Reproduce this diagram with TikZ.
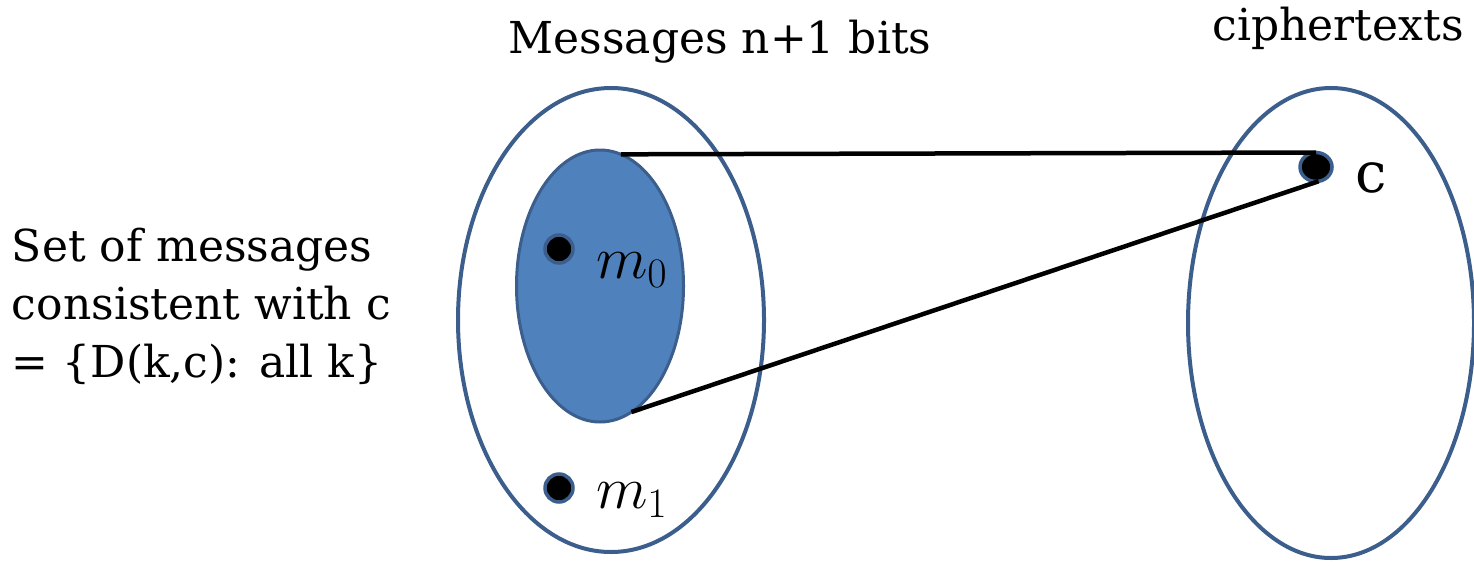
\documentclass[tikz,border=0pt]{standalone}
\usepackage{fix-cm}
\usepackage{fontspec}
\setmainfont{DejaVu Serif}
\usetikzlibrary{shapes.geometric}

\definecolor{setblue}{HTML}{4F81BD}
\definecolor{edgeblue}{HTML}{3B5E8C}

\begin{document}
\begin{tikzpicture}[x=1pt,y=-1pt,line width=4pt]
  \tikzset{every node/.style={inner sep=0pt,outer sep=0pt}}
  \tikzset{region/.style={ellipse,draw=edgeblue}}
  \tikzset{elem/.style={circle,draw=edgeblue,fill=black,line width=3.5pt,minimum size=28pt}}
  \tikzset{caption/.style={font=\fontsize{44}{58}\selectfont}}
  \tikzset{elemlabel/.style={anchor=west,font=\fontsize{60}{60}\selectfont}}
  \useasboundingbox (0,0) rectangle (1474,565);

  % message space and ciphertext space
  \node[region,minimum width=306pt,minimum height=464pt] (msgs) at (611,320) {};
  \node[region,minimum width=286pt,minimum height=470pt] (ctxts) at (1331,323) {};
  \node[region,fill=setblue,line width=3pt,minimum width=167pt,minimum height=272pt] (cons) at (600,286) {};

  % points
  \node[elem] (m0) at (559,249) {};
  \node[elem] (m1) at (559,488) {};
  \node[elem,minimum width=32pt,minimum height=29pt,ellipse] (c) at (1316,167) {};

  \node[elemlabel] (m0lbl) at (596,270) {$m_0$};
  \node[elemlabel] (m1lbl) at (596,500) {$m_1$};
  \node[anchor=west,font=\fontsize{56}{56}\selectfont] (clbl) at (1355,178) {c};

  % titles
  \node[caption] (msgtitle) at (720,42) {Messages n+1 bits};
  \node[caption] (ctitle) at (1338,28) {ciphertexts};
  \node[caption,anchor=west,align=left] (setlbl) at (12,306)
    {Set of messages\\consistent with c\\= \{D(k,c): all k\}};

  \path[line width=4.5pt] (cons.81) edge (c.north)
        (cons.-76) edge (c.-80);
\end{tikzpicture}
\end{document}
